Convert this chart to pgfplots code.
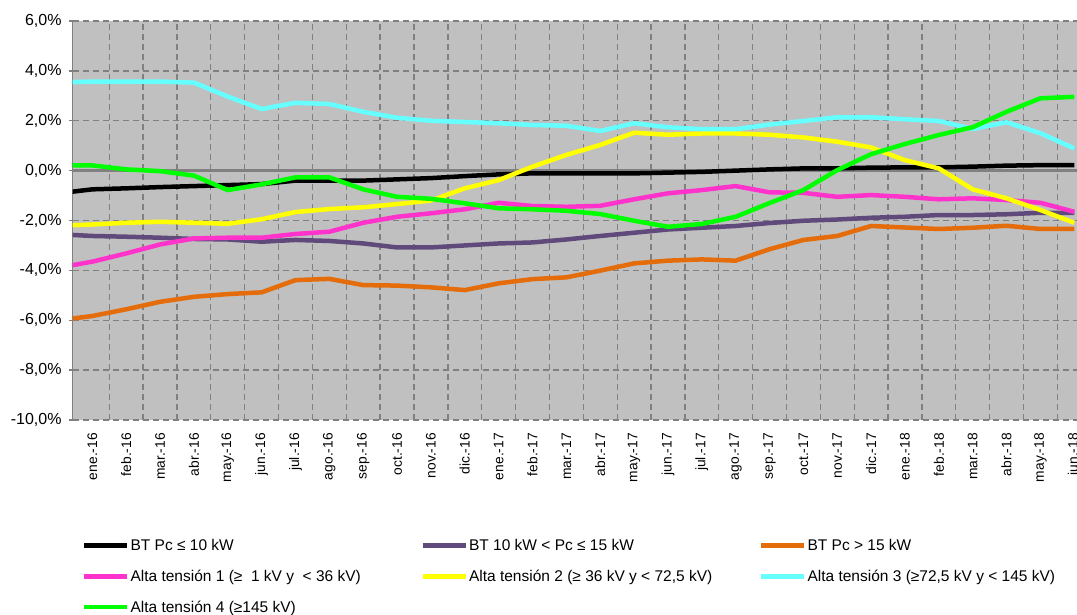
\documentclass[border=0pt]{standalone}
\usepackage{fontspec}
\setmainfont{Liberation Sans}
\usepackage{pgfplots}
\pgfplotsset{compat=1.18}
\definecolor{bgc}{HTML}{C0C0C0}
\definecolor{gridc}{HTML}{808080}
\definecolor{purp}{HTML}{604A7B}
\definecolor{orng}{HTML}{E46C0A}
\definecolor{mag}{HTML}{FF33CC}
\definecolor{yel}{HTML}{FFFF00}
\definecolor{cya}{HTML}{66FFFF}
\definecolor{grn}{HTML}{00FF00}
\begin{document}
\begin{tikzpicture}
\begin{axis}[
  at={(72.7pt,-420pt)}, anchor=south west,
  scale only axis, width=1018.5pt, height=399pt,
  xmin=-0.58, xmax=29.5, ymin=-10, ymax=6,
  axis background/.style={fill=bgc},
  axis x line*=bottom, axis y line*=left,
  x axis line style={draw=none},
  y axis line style={-, draw=gridc, line width=1.5pt},
  xtick={0,...,29},
  xticklabels={ene.-16,feb.-16,mar.-16,abr.-16,may.-16,jun.-16,jul.-16,ago.-16,sep.-16,oct.-16,nov.-16,dic.-16,
               ene.-17,feb.-17,mar.-17,abr.-17,may.-17,jun.-17,jul.-17,ago.-17,sep.-17,oct.-17,nov.-17,dic.-17,
               ene.-18,feb.-18,mar.-18,abr.-18,may.-18,jun.-18},
  xtick style={draw=none},
  minor xtick={0.5,1.5,...,29.5},
  minor x tick style={draw=none},
  xminorgrids=true,
  xticklabel style={rotate=90, anchor=east, inner sep=0pt, font=\fontsize{13.8}{16}\selectfont},
  xticklabel shift=9pt,
  ytick={-10,-8,...,6},
  yticklabels={{-10,0\%},{-8,0\%},{-6,0\%},{-4,0\%},{-2,0\%},{0,0\%},{2,0\%},{4,0\%},{6,0\%}},
  yticklabel style={inner sep=0pt, font=\fontsize{16}{18}\selectfont},
  yticklabel shift=7pt,
  ytick style={draw=gridc, line width=1.3pt},
  tick align=outside, major tick length=4pt,
  ymajorgrids=true,
  grid style={draw=gridc, line width=1.3pt, dash pattern=on 6pt off 4pt},
  minor grid style={draw=gridc, line width=1.3pt, dash pattern=on 6pt off 4pt},
  extra y ticks={0}, extra y tick labels={},
  extra y tick style={grid style={solid, draw=gridc, line width=2.6pt}, major tick length=0pt},
  every axis plot/.append style={line width=4.5pt, line join=round, mark=none},
  legend columns=3,
  legend cell align=left,
  legend image code/.code={\draw[#1, line width=4.5pt] (0pt,0pt) -- (43pt,0pt);},
  legend style={at={(0.009,-0.293)}, anchor=north west, draw=none, fill=none,
    font=\fontsize{15.5}{18}\selectfont, inner sep=0pt, column sep=0pt, row sep=14pt,
    nodes={inner xsep=1pt}},
]
\addplot[black] coordinates {(-1,-0.91)(0,-0.75)(1,-0.71)(2,-0.66)(3,-0.62)(4,-0.58)(5,-0.54)(6,-0.40)(7,-0.40)(8,-0.40)(9,-0.35)(10,-0.30)(11,-0.22)(12,-0.15)(13,-0.11)(14,-0.11)(15,-0.11)(16,-0.11)(17,-0.08)(18,-0.05)(19,0.00)(20,0.05)(21,0.09)(22,0.09)(23,0.12)(24,0.13)(25,0.13)(26,0.16)(27,0.20)(28,0.22)(29,0.22)};
\addlegendentry{\makebox[289pt][l]{BT Pc ≤ 10 kW}}
\addplot[purp] coordinates {(-1,-2.55)(0,-2.62)(1,-2.65)(2,-2.69)(3,-2.74)(4,-2.76)(5,-2.85)(6,-2.78)(7,-2.82)(8,-2.92)(9,-3.08)(10,-3.08)(11,-3.00)(12,-2.92)(13,-2.88)(14,-2.76)(15,-2.62)(16,-2.49)(17,-2.36)(18,-2.29)(19,-2.22)(20,-2.10)(21,-2.01)(22,-1.96)(23,-1.89)(24,-1.85)(25,-1.78)(26,-1.78)(27,-1.75)(28,-1.69)(29,-1.69)};
\addlegendentry{\makebox[289pt][l]{BT 10 kW < Pc ≤ 15 kW}}
\addplot[orng] coordinates {(-1,-6.00)(0,-5.83)(1,-5.56)(2,-5.26)(3,-5.06)(4,-4.95)(5,-4.88)(6,-4.39)(7,-4.34)(8,-4.59)(9,-4.61)(10,-4.68)(11,-4.79)(12,-4.52)(13,-4.35)(14,-4.28)(15,-4.01)(16,-3.72)(17,-3.61)(18,-3.56)(19,-3.61)(20,-3.15)(21,-2.78)(22,-2.62)(23,-2.22)(24,-2.28)(25,-2.34)(26,-2.29)(27,-2.21)(28,-2.34)(29,-2.34)};
\addlegendentry{\makebox[250pt][l]{BT Pc > 15 kW}}
\addplot[mag] coordinates {(-1,-3.89)(0,-3.65)(1,-3.32)(2,-2.96)(3,-2.72)(4,-2.69)(5,-2.69)(6,-2.54)(7,-2.45)(8,-2.09)(9,-1.85)(10,-1.71)(11,-1.55)(12,-1.29)(13,-1.42)(14,-1.45)(15,-1.41)(16,-1.15)(17,-0.91)(18,-0.78)(19,-0.62)(20,-0.87)(21,-0.89)(22,-1.05)(23,-0.98)(24,-1.05)(25,-1.15)(26,-1.11)(27,-1.18)(28,-1.29)(29,-1.65)};
\addlegendentry{\makebox[289pt][l]{Alta tensión 1 (≥\ \ 1 kV y\ \ < 36 kV)}}
\addplot[yel] coordinates {(-1,-2.21)(0,-2.16)(1,-2.09)(2,-2.05)(3,-2.09)(4,-2.13)(5,-1.95)(6,-1.66)(7,-1.54)(8,-1.47)(9,-1.34)(10,-1.20)(11,-0.71)(12,-0.38)(13,0.16)(14,0.63)(15,1.03)(16,1.52)(17,1.44)(18,1.49)(19,1.49)(20,1.44)(21,1.33)(22,1.16)(23,0.93)(24,0.42)(25,0.09)(26,-0.75)(27,-1.11)(28,-1.58)(29,-2.09)};
\addlegendentry{\makebox[289pt][l]{Alta tensión 2 (≥ 36 kV y < 72,5 kV)}}
\addplot[cya] coordinates {(-1,3.54)(0,3.57)(1,3.57)(2,3.57)(3,3.53)(4,2.97)(5,2.47)(6,2.72)(7,2.67)(8,2.36)(9,2.12)(10,2.00)(11,1.95)(12,1.90)(13,1.83)(14,1.80)(15,1.59)(16,1.90)(17,1.74)(18,1.66)(19,1.66)(20,1.85)(21,1.99)(22,2.14)(23,2.14)(24,2.06)(25,1.99)(26,1.67)(27,1.94)(28,1.50)(29,0.89)};
\addlegendentry{\makebox[250pt][l]{Alta tensión 3 (≥72,5 kV y < 145 kV)}}
\addplot[grn] coordinates {(-1,0.22)(0,0.21)(1,0.05)(2,-0.02)(3,-0.20)(4,-0.78)(5,-0.55)(6,-0.27)(7,-0.27)(8,-0.75)(9,-1.05)(10,-1.13)(11,-1.31)(12,-1.51)(13,-1.55)(14,-1.61)(15,-1.74)(16,-2.01)(17,-2.25)(18,-2.14)(19,-1.85)(20,-1.30)(21,-0.78)(22,0.02)(23,0.66)(24,1.07)(25,1.43)(26,1.74)(27,2.36)(28,2.90)(29,2.96)};
\addlegendentry{\makebox[289pt][l]{Alta tensión 4 (≥145 kV)}}
\end{axis}
\pgfresetboundingbox
\useasboundingbox (0pt,0pt) rectangle (1077pt,-614pt);
\end{tikzpicture}
\end{document}
